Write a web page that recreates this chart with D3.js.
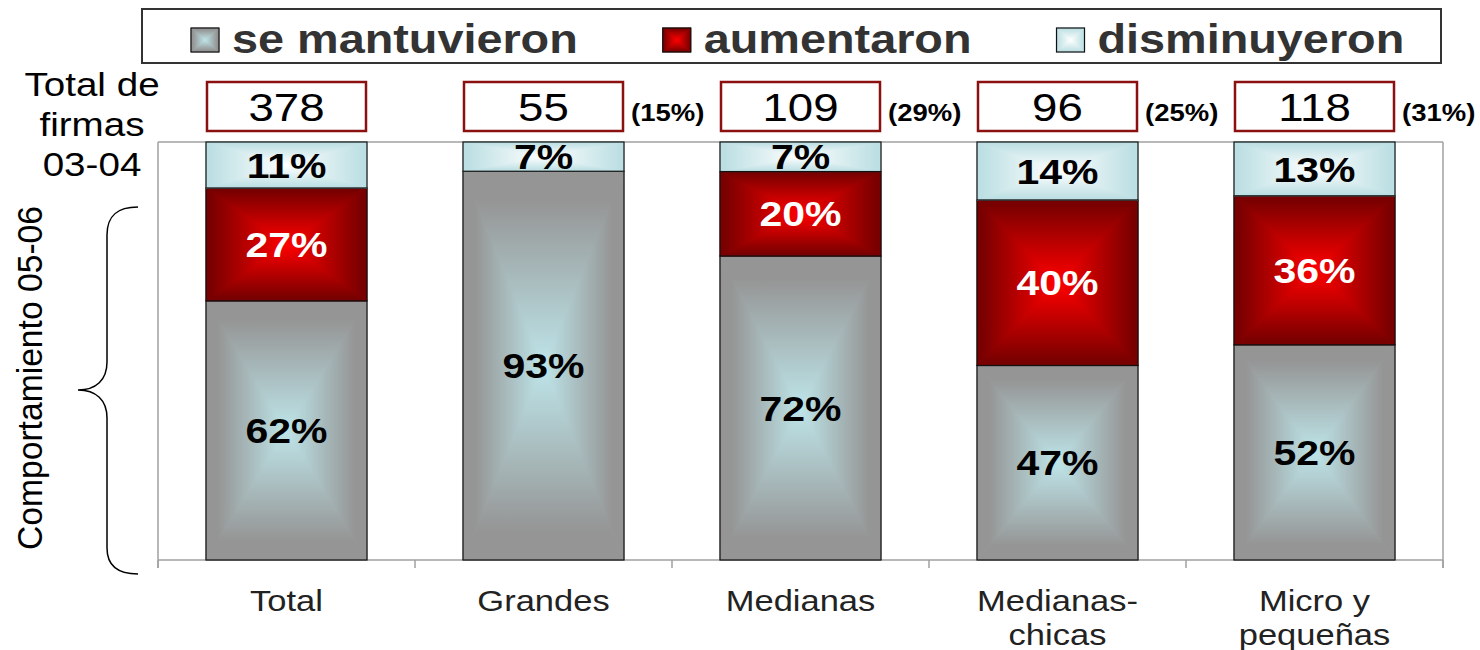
<!DOCTYPE html>
<html>
<head>
<meta charset="utf-8">
<script src="https://cdn.jsdelivr.net/npm/d3@7"></script>
<style>
  body { margin: 0; background: #fff; }
  svg { font-family: "Liberation Sans", Arial, sans-serif; }
</style>
</head>
<body>
<svg id="chart" width="1480" height="650"></svg>
<script>
const categories = ["Total", "Grandes", "Medianas", "Medianas-chicas", "Micro y pequeñas"];
const tickLines = [["Total"], ["Grandes"], ["Medianas"], ["Medianas-", "chicas"], ["Micro y", "pequeñas"]];
const mantuvieron = [62, 93, 72, 47, 52];
const aumentaron = [27, 0, 20, 40, 36];
const disminuyeron = [11, 7, 7, 14, 13];
const totalFirmas = [378, 55, 109, 96, 118];
const shareFirmas = [null, 15, 29, 25, 31];

const seriesNames = ["se mantuvieron", "aumentaron", "disminuyeron"];
const keys = ["mantuvieron", "aumentaron", "disminuyeron"];

const seriesStyle = {
  mantuvieron: { edge: "#959595", center: "#bee5e9", text: "#000" },
  aumentaron: { edge: "#780000", center: "#ff0000", text: "#fff" },
  disminuyeron: { edge: "#bcdfe3", center: "#ffffff", text: "#000" }
};

const svg = d3.select("#chart");
const sx = 1.17; // the original text is slightly wide
const place = (sel, x, y) => sel.attr("transform", `translate(${x},${y}) scale(${sx},1)`);

const plot = { left: 158, right: 1443, top: 142, bottom: 560 };

const rows = categories.map((c, i) => ({
  cat: c,
  mantuvieron: mantuvieron[i],
  aumentaron: aumentaron[i],
  disminuyeron: disminuyeron[i]
}));

const stacked = d3.stack().keys(keys).offset(d3.stackOffsetExpand)(rows);

const x = d3.scaleBand()
  .domain(categories)
  .range([plot.left, plot.right])
  .paddingInner(0.3735)
  .paddingOuter(0.3735 / 2);

const y = d3.scaleLinear().domain([0, 1]).range([plot.bottom, plot.top]);

// gradients, "from center" look built from four triangles
const defs = svg.append("defs");
const dirs = {
  top: [0, 0, 0, 1],
  bottom: [0, 1, 0, 0],
  left: [0, 0, 1, 0],
  right: [1, 0, 0, 0]
};
keys.forEach(k => {
  Object.entries(dirs).forEach(([name, v]) => {
    const g = defs.append("linearGradient")
      .attr("id", `g-${k}-${name}`)
      .attr("x1", v[0]).attr("y1", v[1]).attr("x2", v[2]).attr("y2", v[3]);
    g.append("stop").attr("offset", 0).attr("stop-color", seriesStyle[k].edge);
    g.append("stop").attr("offset", k === "mantuvieron" ? 0.15 : 0.05).attr("stop-color", seriesStyle[k].edge);
    g.append("stop").attr("offset", 1).attr("stop-color", seriesStyle[k].center);
  });
});

function gradientBox(g, k, x0, y0, x1, y1) {
  const cx = (x0 + x1) / 2, cy = (y0 + y1) / 2;
  g.append("rect").attr("x", x0).attr("y", y0).attr("width", x1 - x0).attr("height", y1 - y0)
    .attr("fill", d3.interpolateRgb(seriesStyle[k].edge, seriesStyle[k].center)(0.5));
  const tri = [
    ["top", [[x0, y0], [x1, y0], [cx, cy]]],
    ["bottom", [[x0, y1], [x1, y1], [cx, cy]]],
    ["left", [[x0, y0], [x0, y1], [cx, cy]]],
    ["right", [[x1, y0], [x1, y1], [cx, cy]]]
  ];
  tri.forEach(([name, pts]) => {
    g.append("path")
      .attr("d", "M" + pts.map(p => p.join(",")).join("L") + "Z")
      .attr("fill", `url(#g-${k}-${name})`)
      .attr("stroke", `url(#g-${k}-${name})`)
      .attr("stroke-width", 0.8);
  });
  g.append("rect").attr("x", x0).attr("y", y0).attr("width", x1 - x0).attr("height", y1 - y0)
    .attr("fill", "none").attr("stroke", "#111").attr("stroke-width", 1.2);
}

// plot frame
const frame = svg.append("g").attr("stroke", "#a0a0a0").attr("stroke-width", 1.5);
frame.append("line").attr("x1", plot.left).attr("x2", plot.right).attr("y1", plot.top).attr("y2", plot.top);
frame.append("line").attr("x1", plot.left).attr("x2", plot.left).attr("y1", plot.top).attr("y2", plot.bottom + 8);
frame.append("line").attr("x1", plot.right).attr("x2", plot.right).attr("y1", plot.top).attr("y2", plot.bottom + 8);
frame.append("line").attr("x1", plot.left).attr("x2", plot.right).attr("y1", plot.bottom).attr("y2", plot.bottom);
d3.range(categories.length + 1).forEach(i => {
  const bx = plot.left + i * x.step();
  frame.append("line").attr("x1", bx).attr("x2", bx).attr("y1", plot.bottom).attr("y2", plot.bottom + 8);
});

// bars
const bars = svg.append("g");
stacked.forEach(s => {
  s.forEach((d, i) => {
    if (d[1] - d[0] <= 0) return;
    const x0 = x(categories[i]), x1 = x0 + x.bandwidth();
    gradientBox(bars, s.key, x0, y(d[1]), x1, y(d[0]));
  });
});

// bar labels
const labelsG = svg.append("g").attr("font-weight", "bold").attr("font-size", 35).attr("text-anchor", "middle");
stacked.forEach((s, si) => {
  const src = [mantuvieron, aumentaron, disminuyeron][si];
  s.forEach((d, i) => {
    if (src[i] <= 0) return;
    labelsG.append("text")
      .call(place, x(categories[i]) + x.bandwidth() / 2, (y(d[0]) + y(d[1])) / 2)
      .attr("dy", "0.36em")
      .attr("fill", seriesStyle[s.key].text)
      .text(src[i] + "%");
  });
});

// totals boxes
const tot = svg.append("g");
categories.forEach((c, i) => {
  const bx = x(c);
  tot.append("rect")
    .attr("x", bx + 1).attr("y", 82)
    .attr("width", x.bandwidth() - 2).attr("height", 49)
    .attr("fill", "#fff").attr("stroke", "#8b1010").attr("stroke-width", 2.5);
  tot.append("text")
    .call(place, bx + x.bandwidth() / 2, 121)
    .attr("text-anchor", "middle").attr("font-size", 39).attr("fill", "#000")
    .text(totalFirmas[i]);
  if (shareFirmas[i] != null) {
    tot.append("text")
      .call(place, bx + x.bandwidth() + 7, 121)
      .attr("font-size", 23.5).attr("font-weight", "bold").attr("fill", "#000")
      .text(`(${shareFirmas[i]}%)`);
  }
});

// left text
["Total de", "firmas", "03-04"].forEach((t, i) => {
  svg.append("text")
    .call(place, 92, 96 + i * 40)
    .attr("text-anchor", "middle").attr("font-size", 33).attr("fill", "#000")
    .text(t);
});

// x tick labels
categories.forEach((c, i) => {
  tickLines[i].forEach((t, j) => {
    svg.append("text")
      .call(place, x(c) + x.bandwidth() / 2, 611 + j * 34)
      .attr("text-anchor", "middle").attr("font-size", 29.5).attr("fill", "#222")
      .text(t);
  });
});

// y label and brace
svg.append("text")
  .attr("transform", "translate(42,378) rotate(-90) scale(1.02,1.05)")
  .attr("text-anchor", "middle").attr("font-size", 33).attr("fill", "#000")
  .text("Comportamiento 05-06");

svg.append("path")
  .attr("d", "M138,207 C118,207 107,215 107,235 L107,362 C107,380 96,390 78,390 C96,390 107,400 107,418 L107,548 C107,566 118,574 138,574")
  .attr("fill", "none").attr("stroke", "#000").attr("stroke-width", 1.5);

// legend
const leg = svg.append("g");
leg.append("rect").attr("x", 142).attr("y", 9).attr("width", 1299).attr("height", 54)
  .attr("fill", "#fff").attr("stroke", "#333").attr("stroke-width", 2);
let lx = 191;
keys.forEach((k, i) => {
  gradientBox(leg, k, lx, 28, lx + 28, 52);
  const t = leg.append("text")
    .call(place, lx + 41, 53)
    .attr("font-size", 40).attr("font-weight", "bold").attr("fill", "#333")
    .text(seriesNames[i]);
  lx += 41 + t.node().getComputedTextLength() * sx + 85;
});
</script>
</body>
</html>
